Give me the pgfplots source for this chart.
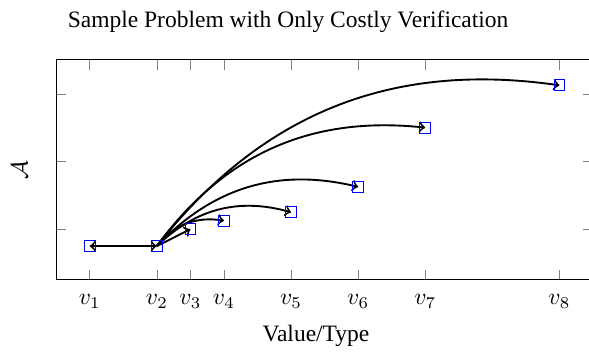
\documentclass[border=0pt]{standalone}
\usepackage{pgfplots}
\pgfplotsset{compat=1.18}
\usepackage{fontspec}
\setmainfont{Liberation Serif}
\pgfdeclareplotmark{bsq}{%
  \pgfsetstrokecolor{blue}%
  \pgfpathrectangle{\pgfqpoint{-\pgfplotmarksize}{-\pgfplotmarksize}}{\pgfqpoint{2\pgfplotmarksize}{2\pgfplotmarksize}}%
  \pgfusepathqstroke}
\pgfplotstableread{
x y
1 0.75
3 0.75
4 1.0
5 1.125
7 1.25
9 1.625
11 2.5
15 3.125
}\points
\begin{document}
\begin{tikzpicture}
\begin{axis}[
  scale only axis,
  width=228.4pt, height=93.6pt,
  xmin=0, xmax=16, ymin=0.25, ymax=3.5,
  xtick={1,3,4,5,7,9,11,15},
  xticklabels={$v_1$,$v_2$,$v_3$,$v_4$,$v_5$,$v_6$,$v_7$,$v_8$},
  ytick={1,2,3}, yticklabels={},
  xticklabel style={anchor=base, yshift=-10.6pt},
  title={Sample Problem with Only Costly Verification},
  title style={at={(axis description cs:0.432,1)}, anchor=base, yshift=7.6pt},
  xlabel={Value/Type},
  xlabel style={at={(axis description cs:0.484,0)}, anchor=base, yshift=-26.3pt},
  ylabel={$\mathcal{A}$},
  ylabel style={at={(axis description cs:0,0.5)}, anchor=center, yshift=15.7pt},
  clip=false,
]
\draw[<->, thick, black] (axis cs:1,0.75) -- (axis cs:3,0.75);
\draw[->, thick, black] (axis cs:3,0.75) -- (axis cs:4,1.0);
\draw[->, thick, black] (axis cs:3,0.75) to[bend left=30] (axis cs:5,1.125);
\draw[->, thick, black] (axis cs:3,0.75) to[bend left=30] (axis cs:7,1.25);
\draw[->, thick, black] (axis cs:3,0.75) to[bend left=30] (axis cs:9,1.625);
\draw[->, thick, black] (axis cs:3,0.75) to[bend left=30] (axis cs:11,2.5);
\draw[->, thick, black] (axis cs:3,0.75) to[bend left=30] (axis cs:15,3.125);
\addplot[only marks, mark=bsq, mark size=2.3pt, blue] table {\points};
\end{axis}
\pgfresetboundingbox
\path ([shift={(-23.9pt,-31.5pt)}]current axis.south west) rectangle ([shift={(-1.7pt,25.5pt)}]current axis.north east);
\end{tikzpicture}
\end{document}
